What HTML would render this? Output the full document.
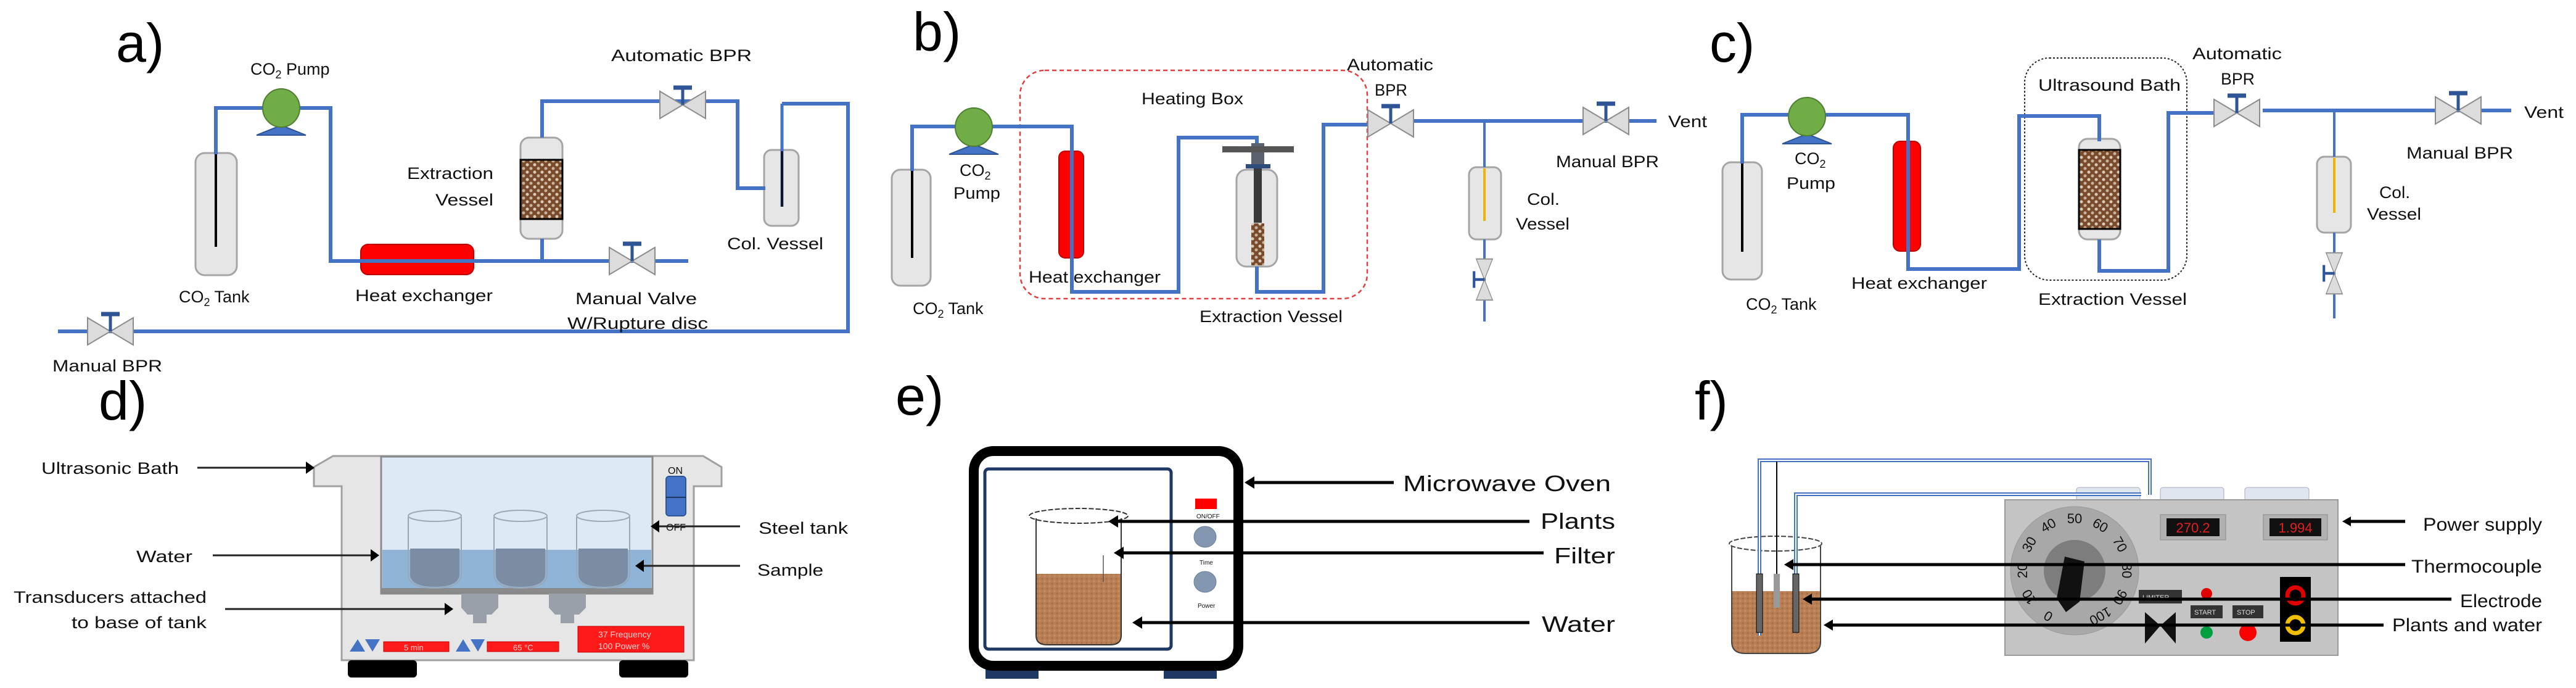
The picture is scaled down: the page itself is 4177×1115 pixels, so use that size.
<!DOCTYPE html>
<html><head><meta charset="utf-8"><style>
html,body{margin:0;padding:0;background:#fff}
svg{display:block}
text{font-family:"Liberation Sans Narrow","Liberation Sans",sans-serif;fill:#111}
.t{font-size:27px}
.p{font-size:88px;font-family:"Liberation Sans",sans-serif;fill:#000}
</style></head><body>
<svg width="4177" height="1115" viewBox="0 0 4177 1115" xmlns="http://www.w3.org/2000/svg">
<defs>
<pattern id="pk" width="12" height="12" patternUnits="userSpaceOnUse">
<rect width="12" height="12" fill="#7a4a2c"/><circle cx="3" cy="3" r="2.5" fill="#d8cbb8"/><circle cx="9" cy="9" r="2.5" fill="#c7b39a"/>
</pattern>
<pattern id="br" width="8" height="8" patternUnits="userSpaceOnUse">
<rect width="8" height="8" fill="#b97f55"/><circle cx="2" cy="2" r="1.3" fill="#a26a43"/><circle cx="6" cy="6" r="1.3" fill="#c99069"/>
</pattern>
<g id="valve">
<polygon points="-37,-22 0,0 -37,22" fill="#dcdcdc" stroke="#8c8c8c" stroke-width="2"/>
<polygon points="37,-22 0,0 37,22" fill="#dcdcdc" stroke="#8c8c8c" stroke-width="2"/>
<line x1="0" y1="0" x2="0" y2="-28" stroke="#2f5597" stroke-width="5"/>
<line x1="-15" y1="-28" x2="15" y2="-28" stroke="#2f5597" stroke-width="7"/>
</g>
<g id="pump">
<polygon points="-40,44 0,28 40,44" fill="#4472c4" stroke="#2f5597" stroke-width="2"/>
<ellipse cx="0" cy="0" rx="30" ry="31" fill="#70ad47" stroke="#507e32" stroke-width="2"/>
</g>
</defs>

<!-- ================= PANEL A ================= -->
<text class="p" x="188" y="100">a)</text>
<rect x="317" y="248" width="67" height="198" rx="15" fill="#e7e6e6" stroke="#a5a5a5" stroke-width="3"/>
<line x1="350" y1="250" x2="350" y2="400" stroke="#000" stroke-width="4"/>
<rect x="585" y="396" width="183" height="49" rx="12" fill="#ff0000" stroke="#c00000" stroke-width="2"/>
<rect x="844" y="223" width="68" height="164" rx="14" fill="#e7e6e6" stroke="#a5a5a5" stroke-width="3"/>
<rect x="844" y="259" width="68" height="96" fill="url(#pk)" stroke="#000" stroke-width="3"/>
<rect x="1239" y="243" width="56" height="123" rx="12" fill="#e7e6e6" stroke="#a5a5a5" stroke-width="3"/>
<g fill="none" stroke="#4472c4" stroke-width="6">
<path d="M350 250 V175 H536 V423 H1116"/>
<path d="M879 387 V423"/>
<path d="M879 223 V164 H1196 V305 H1241"/>
<path d="M1268 168 H1375 V537 H94"/>
</g>
<line x1="1268" y1="168" x2="1268" y2="335" stroke="#4472c4" stroke-width="5"/>
<line x1="1268" y1="245" x2="1268" y2="335" stroke="#000" stroke-width="3"/>
<use href="#pump" x="456" y="175"/>
<use href="#valve" x="1107" y="170"/>
<use href="#valve" x="1025" y="423"/>
<use href="#valve" x="179" y="537"/>
<text class="t" x="406" y="121">CO<tspan font-size="18" dy="6">2</tspan><tspan dy="-6"> Pump</tspan></text>
<text class="t" x="991" y="99" textLength="228" lengthAdjust="spacingAndGlyphs">Automatic  BPR</text>
<text class="t" x="660" y="290" textLength="140" lengthAdjust="spacingAndGlyphs">Extraction</text>
<text class="t" x="706" y="333" textLength="94" lengthAdjust="spacingAndGlyphs">Vessel</text>
<text class="t" x="290" y="490">CO<tspan font-size="18" dy="6">2</tspan><tspan dy="-6"> Tank</tspan></text>
<text class="t" x="576" y="488" textLength="223" lengthAdjust="spacingAndGlyphs">Heat exchanger</text>
<text class="t" x="933" y="493" textLength="197" lengthAdjust="spacingAndGlyphs">Manual Valve</text>
<text class="t" x="920" y="533" textLength="228" lengthAdjust="spacingAndGlyphs">W/Rupture disc</text>
<text class="t" x="1179" y="404" textLength="156" lengthAdjust="spacingAndGlyphs">Col. Vessel</text>
<text class="t" x="85" y="602" textLength="178" lengthAdjust="spacingAndGlyphs">Manual BPR</text>

<!-- ================= PANEL B ================= -->
<text class="p" x="1480" y="82">b)</text>
<rect x="1654" y="114" width="563" height="370" rx="40" fill="none" stroke="#e04040" stroke-width="2.5" stroke-dasharray="7,5"/>
<rect x="1446" y="275" width="63" height="188" rx="14" fill="#e7e6e6" stroke="#a5a5a5" stroke-width="3"/>
<line x1="1479" y1="277" x2="1479" y2="418" stroke="#000" stroke-width="4"/>
<rect x="1717" y="245" width="40" height="173" rx="10" fill="#ff0000" stroke="#c00000" stroke-width="2"/>
<rect x="2005" y="275" width="66" height="157" rx="16" fill="#e7e6e6" stroke="#a5a5a5" stroke-width="3"/>
<rect x="2029" y="362" width="21" height="68" fill="url(#pk)"/>
<rect x="2033" y="271" width="13" height="90" fill="#3a3a3a"/>
<rect x="2029" y="232" width="21" height="40" fill="#5a6270"/>
<rect x="1982" y="237" width="116" height="10" fill="#555"/>
<rect x="2020" y="266" width="40" height="7" fill="#2f4d7a"/>
<rect x="2382" y="271" width="52" height="117" rx="12" fill="#e7e6e6" stroke="#a5a5a5" stroke-width="3"/>
<g fill="none" stroke="#4472c4" stroke-width="6">
<path d="M1479 277 V205 H1738 V473 H1911 V223 H2038 V232"/>
<path d="M2038 432 V473 H2146 V202 H2220"/>
<path d="M2291 196 H2686"/>
</g>
<g stroke="#4472c4" stroke-width="4" fill="none">
<path d="M2407 196 V271"/>
<path d="M2407 388 V521"/>
</g>
<line x1="2407" y1="273" x2="2407" y2="358" stroke="#f0b400" stroke-width="4"/>
<use href="#pump" x="1579" y="206"/>
<use href="#valve" x="2255" y="200"/>
<use href="#valve" x="2604" y="196"/>
<use href="#valve" transform="translate(2407 453) rotate(-90) scale(0.9 0.6)"/>
<text class="t" x="1851" y="169" textLength="165" lengthAdjust="spacingAndGlyphs">Heating Box</text>
<text class="t" x="2184" y="114" textLength="140" lengthAdjust="spacingAndGlyphs">Automatic</text>
<text class="t" x="2229" y="155" textLength="53" lengthAdjust="spacingAndGlyphs">BPR</text>
<text class="t" x="2705" y="206" textLength="63" lengthAdjust="spacingAndGlyphs">Vent</text>
<text class="t" x="2523" y="271" textLength="167" lengthAdjust="spacingAndGlyphs">Manual BPR</text>
<text class="t" x="2476" y="332" textLength="53" lengthAdjust="spacingAndGlyphs">Col.</text>
<text class="t" x="2458" y="372" textLength="87" lengthAdjust="spacingAndGlyphs">Vessel</text>
<text class="t" x="1556" y="285">CO<tspan font-size="18" dy="6">2</tspan></text>
<text class="t" x="1546" y="322" textLength="76" lengthAdjust="spacingAndGlyphs">Pump</text>
<text class="t" x="1480" y="509">CO<tspan font-size="18" dy="6">2</tspan><tspan dy="-6"> Tank</tspan></text>
<text class="t" x="1668" y="458" textLength="214" lengthAdjust="spacingAndGlyphs">Heat exchanger</text>
<text class="t" x="1945" y="522" textLength="232" lengthAdjust="spacingAndGlyphs">Extraction Vessel</text>

<!-- ================= PANEL C ================= -->
<text class="p" x="2772" y="100">c)</text>
<rect x="3283" y="94" width="263" height="360" rx="40" fill="none" stroke="#222" stroke-width="2" stroke-dasharray="3,3"/>
<rect x="2793" y="263" width="64" height="190" rx="14" fill="#e7e6e6" stroke="#a5a5a5" stroke-width="3"/>
<line x1="2825" y1="265" x2="2825" y2="408" stroke="#000" stroke-width="4"/>
<rect x="3070" y="229" width="44" height="178" rx="11" fill="#ff0000" stroke="#c00000" stroke-width="2"/>
<rect x="3371" y="225" width="67" height="163" rx="14" fill="#e7e6e6" stroke="#a5a5a5" stroke-width="3"/>
<rect x="3371" y="243" width="67" height="128" fill="url(#pk)" stroke="#000" stroke-width="3"/>
<rect x="3757" y="254" width="55" height="123" rx="12" fill="#e7e6e6" stroke="#a5a5a5" stroke-width="3"/>
<g fill="none" stroke="#4472c4" stroke-width="6">
<path d="M2825 265 V186 H3094 V436 H3274 V188 H3404 V229"/>
<path d="M3404 388 V439 H3516 V183 H3592"/>
<path d="M3669 179 H4072"/>
</g>
<g stroke="#4472c4" stroke-width="4" fill="none">
<path d="M3785 179 V254"/>
<path d="M3785 377 V516"/>
</g>
<line x1="3785" y1="256" x2="3785" y2="345" stroke="#f0b400" stroke-width="4"/>
<use href="#pump" x="2930" y="189"/>
<use href="#valve" x="3627" y="183"/>
<use href="#valve" x="3986" y="179"/>
<use href="#valve" transform="translate(3785 443) rotate(-90) scale(0.9 0.6)"/>
<text class="t" x="3305" y="147" textLength="231" lengthAdjust="spacingAndGlyphs">Ultrasound  Bath</text>
<text class="t" x="3555" y="96" textLength="145" lengthAdjust="spacingAndGlyphs">Automatic</text>
<text class="t" x="3601" y="137" textLength="55" lengthAdjust="spacingAndGlyphs">BPR</text>
<text class="t" x="4093" y="191" textLength="64" lengthAdjust="spacingAndGlyphs">Vent</text>
<text class="t" x="3902" y="257" textLength="173" lengthAdjust="spacingAndGlyphs">Manual BPR</text>
<text class="t" x="3858" y="321" textLength="50" lengthAdjust="spacingAndGlyphs">Col.</text>
<text class="t" x="3838" y="356" textLength="88" lengthAdjust="spacingAndGlyphs">Vessel</text>
<text class="t" x="2910" y="266">CO<tspan font-size="18" dy="6">2</tspan></text>
<text class="t" x="2897" y="306" textLength="79" lengthAdjust="spacingAndGlyphs">Pump</text>
<text class="t" x="2831" y="502">CO<tspan font-size="18" dy="6">2</tspan><tspan dy="-6"> Tank</tspan></text>
<text class="t" x="3002" y="468" textLength="220" lengthAdjust="spacingAndGlyphs">Heat exchanger</text>
<text class="t" x="3305" y="494" textLength="241" lengthAdjust="spacingAndGlyphs">Extraction Vessel</text>

<!-- ================= PANEL D ================= -->
<text class="p" x="160" y="680">d)</text>
<path d="M540 739 H1140 L1170 757 V788 H1125 V1070 H554 V788 H509 V757 Z" fill="#e6e6e6" stroke="#a0a0a0" stroke-width="3"/>
<rect x="618" y="740" width="440" height="222" fill="#dde9f5" stroke="#8a8a8a" stroke-width="3"/>
<rect x="620" y="891" width="436" height="62" fill="#8fb4d8"/>
<rect x="618" y="953" width="440" height="9" fill="#8a8a8a"/>
<g stroke="#9aa7b5" stroke-width="2">
<path d="M662 838 V930 Q662 953 705 953 Q748 953 748 930 V838" fill="none"/>
<path d="M801 838 V930 Q801 953 844 953 Q887 953 887 930 V838" fill="none"/>
<path d="M935 838 V930 Q935 953 978 953 Q1021 953 1021 930 V838" fill="none"/>
</g>
<g fill="#7c8ca3">
<path d="M665 889 H745 V930 Q745 951 705 951 Q665 951 665 930 Z"/>
<path d="M804 889 H884 V930 Q884 951 844 951 Q804 951 804 930 Z"/>
<path d="M938 889 H1018 V930 Q1018 951 978 951 Q938 951 938 930 Z"/>
</g>
<g fill="none" stroke="#a0a8b4" stroke-width="2">
<ellipse cx="705" cy="836" rx="43" ry="9"/><ellipse cx="844" cy="836" rx="43" ry="9"/><ellipse cx="978" cy="836" rx="43" ry="9"/>
</g>
<rect x="1080" y="772" width="32" height="64" rx="5" fill="#4472c4" stroke="#2f5597" stroke-width="2"/>
<line x1="1080" y1="806" x2="1112" y2="806" stroke="#1f3864" stroke-width="2"/>
<text x="1083" y="768" font-size="16">ON</text>
<text x="1080" y="860" font-size="16">OFF</text>
<g fill="#9aa0aa">
<path d="M748 962 H808 V985 L797 996 H758 L748 985 Z"/><rect x="767" y="996" width="22" height="14"/>
<path d="M890 962 H950 V985 L939 996 H900 L890 985 Z"/><rect x="909" y="996" width="22" height="14"/>
</g>
<polygon points="567,1056 580,1036 592,1056" fill="#4472c4"/><polygon points="592,1036 616,1036 604,1056" fill="#4472c4"/>
<rect x="622" y="1040" width="106" height="16" fill="#ff1a1a" stroke="#c00000"/>
<text x="655" y="1054" font-size="13" style="fill:#ffd0d0">5 min</text>
<polygon points="739,1056 751,1036 763,1056" fill="#4472c4"/><polygon points="763,1036 786,1036 775,1056" fill="#4472c4"/>
<rect x="790" y="1040" width="116" height="16" fill="#ff1a1a" stroke="#c00000"/>
<text x="832" y="1054" font-size="13" style="fill:#ffd0d0">65 °C</text>
<rect x="937" y="1015" width="172" height="42" fill="#ff1a1a" stroke="#c00000"/>
<text x="970" y="1033" font-size="14" style="fill:#ffd0d0">37 Frequency</text>
<text x="970" y="1052" font-size="14" style="fill:#ffd0d0">100 Power %</text>
<rect x="564" y="1070" width="112" height="28" rx="6" fill="#000"/>
<rect x="1004" y="1070" width="112" height="28" rx="6" fill="#000"/>
<g stroke="#222" stroke-width="3">
<line x1="320" y1="758" x2="498" y2="758"/><line x1="345" y1="900" x2="604" y2="900"/>
<line x1="365" y1="987" x2="724" y2="987"/><line x1="1200" y1="853" x2="1066" y2="853"/>
<line x1="1200" y1="917" x2="1041" y2="917"/>
</g>
<g fill="#000">
<polygon points="510,758 496,748 496,768"/><polygon points="615,900 601,890 601,910"/>
<polygon points="735,987 721,977 721,997"/><polygon points="1055,853 1069,843 1069,863"/>
<polygon points="1030,917 1044,907 1044,927"/>
</g>
<text class="t" x="67" y="768" textLength="223" lengthAdjust="spacingAndGlyphs">Ultrasonic Bath</text>
<text class="t" x="221" y="911" textLength="91" lengthAdjust="spacingAndGlyphs">Water</text>
<text class="t" x="22" y="977" textLength="313" lengthAdjust="spacingAndGlyphs">Transducers attached</text>
<text class="t" x="116" y="1018" textLength="219" lengthAdjust="spacingAndGlyphs">to base of tank</text>
<text class="t" x="1230" y="865" textLength="145" lengthAdjust="spacingAndGlyphs">Steel tank</text>
<text class="t" x="1228" y="933" textLength="107" lengthAdjust="spacingAndGlyphs">Sample</text>

<!-- ================= PANEL E ================= -->
<text class="p" x="1452" y="672">e)</text>
<rect x="1598" y="1085" width="86" height="15" fill="#1f3864"/>
<rect x="1887" y="1085" width="86" height="15" fill="#1f3864"/>
<rect x="1579" y="731" width="429" height="348" rx="32" fill="#fff" stroke="#000" stroke-width="16"/>
<rect x="1597" y="760" width="302" height="292" rx="6" fill="#fff" stroke="#1f3864" stroke-width="5"/>
<rect x="1938" y="808" width="35" height="17" fill="#ff0000"/>
<text x="1940" y="840" font-size="10">ON/OFF</text>
<ellipse cx="1954" cy="870" rx="18" ry="17" fill="#8497b0" stroke="#6b7f99"/>
<text x="1945" y="915" font-size="10">Time</text>
<ellipse cx="1954" cy="943" rx="18" ry="17" fill="#8497b0" stroke="#6b7f99"/>
<text x="1942" y="985" font-size="10">Power</text>
<path d="M1680 930 H1818 V1030 Q1818 1045 1800 1045 H1698 Q1680 1045 1680 1030 Z" fill="url(#br)"/>
<path d="M1680 840 V1030 Q1680 1045 1698 1045 H1800 Q1818 1045 1818 1030 V840" fill="none" stroke="#333" stroke-width="2"/>
<ellipse cx="1749" cy="836" rx="80" ry="12" fill="none" stroke="#333" stroke-width="2" stroke-dasharray="8,3"/>
<line x1="1789" y1="900" x2="1789" y2="943" stroke="#555" stroke-width="1.5"/>
<g stroke="#000" stroke-width="5">
<line x1="2260" y1="782" x2="2030" y2="782"/>
<line x1="2480" y1="845" x2="1812" y2="845"/>
<line x1="2503" y1="896" x2="1820" y2="896"/>
<line x1="2480" y1="1009" x2="1850" y2="1009"/>
</g>
<g fill="#000">
<polygon points="2018,782 2034,772 2034,792"/><polygon points="1797,845 1813,835 1813,855"/>
<polygon points="1806,896 1822,886 1822,906"/><polygon points="1836,1009 1852,999 1852,1019"/>
</g>
<text x="2275" y="796" font-size="36" textLength="337" lengthAdjust="spacingAndGlyphs">Microwave Oven</text>
<text x="2498" y="857" font-size="36" textLength="121" lengthAdjust="spacingAndGlyphs">Plants</text>
<text x="2520" y="913" font-size="36" textLength="99" lengthAdjust="spacingAndGlyphs">Filter</text>
<text x="2500" y="1024" font-size="36" textLength="119" lengthAdjust="spacingAndGlyphs">Water</text>

<!-- ================= PANEL F ================= -->
<text class="p" x="2748" y="680">f)</text>
<rect x="3367" y="790" width="103" height="22" rx="4" fill="#dfe6ee" stroke="#aab"/>
<rect x="3503" y="790" width="103" height="22" rx="4" fill="#dfe6ee" stroke="#aab"/>
<rect x="3640" y="790" width="104" height="22" rx="4" fill="#dfe6ee" stroke="#aab"/>
<rect x="3251" y="810" width="540" height="252" fill="#c4c4c4" stroke="#9a9a9a" stroke-width="2"/>
<circle cx="3364" cy="925" r="104" fill="#a8a8a8" stroke="#999"/>
<circle cx="3364" cy="925" r="50" fill="#7d7d7d"/>
<path d="M3348 902 L3380 910 L3372 975 L3350 992 L3335 970 Z" fill="#111"/>
<g font-size="22" fill="#000" text-anchor="middle">
<text transform="translate(3321 999) rotate(-150)" dy="8">0</text>
<text transform="translate(3290 968) rotate(-120)" dy="8">10</text>
<text transform="translate(3279 925) rotate(-90)" dy="8">20</text>
<text transform="translate(3290 882) rotate(-60)" dy="8">30</text>
<text transform="translate(3321 851) rotate(-30)" dy="8">40</text>
<text transform="translate(3364 840)" dy="8">50</text>
<text transform="translate(3406 851) rotate(30)" dy="8">60</text>
<text transform="translate(3438 882) rotate(60)" dy="8">70</text>
<text transform="translate(3449 925) rotate(90)" dy="8">80</text>
<text transform="translate(3438 968) rotate(120)" dy="8">90</text>
<text transform="translate(3406 999) rotate(150)" dy="8">100</text>
</g>
<rect x="3503" y="834" width="106" height="41" fill="#b0b0b0" stroke="#8a8a8a"/>
<rect x="3513" y="840" width="86" height="29" fill="#111"/>
<text x="3556" y="863" font-size="22" text-anchor="middle" style="fill:#e02020">270.2</text>
<rect x="3670" y="834" width="104" height="41" fill="#b0b0b0" stroke="#8a8a8a"/>
<rect x="3680" y="840" width="84" height="29" fill="#111"/>
<text x="3722" y="863" font-size="22" text-anchor="middle" style="fill:#e02020">1.994</text>
<rect x="3697" y="935" width="50" height="105" fill="#000"/>
<circle cx="3722" cy="965" r="13" fill="none" stroke="#e00000" stroke-width="7"/>
<circle cx="3722" cy="1013" r="13" fill="none" stroke="#f0c000" stroke-width="7"/>
<rect x="3468" y="956" width="70" height="22" fill="#333"/>
<text x="3474" y="972" font-size="11" style="fill:#ddd">LIMITER</text>
<rect x="3552" y="981" width="52" height="21" fill="#333"/>
<text x="3558" y="996" font-size="11" style="fill:#ddd">START</text>
<rect x="3620" y="981" width="50" height="21" fill="#333"/>
<text x="3627" y="996" font-size="11" style="fill:#ddd">STOP</text>
<circle cx="3578" cy="962" r="9" fill="#e00000"/>
<circle cx="3578" cy="1025" r="10" fill="#00a040"/>
<circle cx="3645" cy="1025" r="14" fill="#ff0000"/>
<polygon points="3478,992 3503,1014 3478,1043" fill="#111"/>
<polygon points="3528,992 3503,1014 3528,1043" fill="#111"/>
<path d="M2808 1000 V1040 Q2808 1059 2830 1059 H2930 Q2952 1059 2952 1040 V958 H2808 Z" fill="url(#br)"/>
<path d="M2808 885 V1040 Q2808 1059 2830 1059 H2930 Q2952 1059 2952 1040 V885" fill="none" stroke="#444" stroke-width="2"/>
<ellipse cx="2879" cy="881" rx="75" ry="12" fill="none" stroke="#444" stroke-width="2" stroke-dasharray="8,3"/>
<g fill="none" stroke="#4472c4" stroke-width="6">
<path d="M2853 1030 V746 H3486 V802"/>
<path d="M2912 1020 V801 H3472"/>
</g>
<g fill="none" stroke="#fff" stroke-width="2">
<path d="M2853 1030 V746 H3486 V802"/>
<path d="M2912 1020 V801 H3472"/>
</g>
<line x1="2881" y1="748" x2="2881" y2="985" stroke="#000" stroke-width="2"/>
<rect x="2876" y="930" width="10" height="55" fill="#999"/>
<rect x="2848" y="930" width="10" height="95" fill="#666" stroke="#000"/>
<rect x="2907" y="930" width="10" height="95" fill="#666" stroke="#000"/>
<g stroke="#000" stroke-width="5">
<line x1="3900" y1="845" x2="3808" y2="845"/>
<line x1="3900" y1="915" x2="2906" y2="915"/>
<line x1="3975" y1="971" x2="2936" y2="971"/>
<line x1="3865" y1="1013" x2="2970" y2="1013"/>
</g>
<g fill="#000">
<polygon points="3798,845 3812,837 3812,853"/><polygon points="2893,915 2908,906 2908,924"/>
<polygon points="2923,971 2938,962 2938,980"/><polygon points="2957,1013 2972,1004 2972,1022"/>
</g>
<text x="3929" y="860" font-size="30" textLength="193" lengthAdjust="spacingAndGlyphs">Power supply</text>
<text x="3910" y="928" font-size="30" textLength="212" lengthAdjust="spacingAndGlyphs">Thermocouple</text>
<text x="3989" y="984" font-size="30" textLength="133" lengthAdjust="spacingAndGlyphs">Electrode</text>
<text x="3879" y="1023" font-size="30" textLength="243" lengthAdjust="spacingAndGlyphs">Plants and water</text>
</svg>
</body></html>
